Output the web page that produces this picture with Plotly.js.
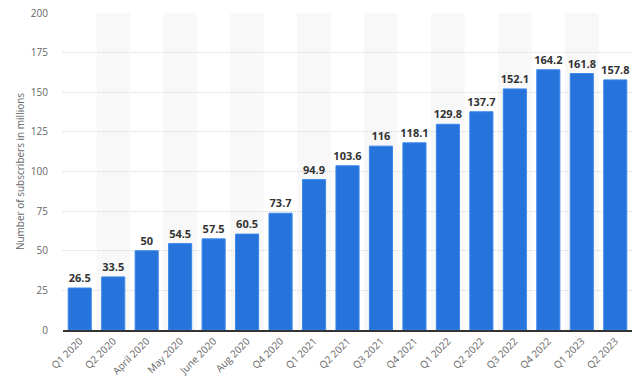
<!DOCTYPE html>
<html>
<head>
<meta charset="utf-8">
<script src="https://cdn.plot.ly/plotly-3.0.1.min.js"></script>
<style>html,body{margin:0;padding:0;background:#fff}#chart{width:640px;height:386px}</style>
</head>
<body>
<div id="chart"></div>
<script>
const categories = ["Q1 2020","Q2 2020","April 2020","May 2020","June 2020","Aug 2020","Q4 2020","Q1 2021","Q2 2021","Q3 2021","Q4 2021","Q1 2022","Q2 2022","Q3 2022","Q4 2022","Q1 2023","Q2 2023"];
const subscribers = [26.5,33.5,50,54.5,57.5,60.5,73.7,94.9,103.6,116,118.1,129.8,137.7,152.1,164.2,161.8,157.8];
const yTicks = [0,25,50,75,100,125,150,175,200];

const bands = [];
categories.forEach((c,i)=>{
  if(i%2===1){
    bands.push({type:'rect',xref:'x',yref:'paper',x0:i-0.5,x1:i+0.5,y0:0,y1:1,fillcolor:'#f8f8f8',line:{width:0},layer:'below'});
  }
});

const trace = {
  type:'bar',
  x: categories.map((c,i)=>i),
  y: subscribers,
  marker:{color:'#2673dc',line:{color:'#3b88ea',width:1}},
  text: subscribers.map(v=>String(v)),
  textposition:'outside',
  textangle:0,
  constraintext:'none',
  textfont:{family:'Open Sans, sans-serif',size:11,color:'#333',weight:'bold'},
  cliponaxis:false,
  hoverinfo:'none'
};

const layout = {
  width:640,height:386,
  margin:{l:63,r:8,t:13,b:56},
  paper_bgcolor:'#fff',plot_bgcolor:'rgba(0,0,0,0)',
  bargap:0.31,
  showlegend:false,
  font:{family:'Open Sans, sans-serif',color:'#666'},
  xaxis:{
    type:'linear',
    range:[-0.5,categories.length-0.5],
    tickmode:'array',
    tickvals:categories.map((c,i)=>i),
    ticktext:categories,
    tickangle:-45,
    tickfont:{size:10,color:'#666'},
    showgrid:false,
    showline:true,linecolor:'#333',linewidth:1.5,
    ticks:'',
    zeroline:false
  },
  yaxis:{
    range:[0,200],
    tickmode:'array',
    tickvals:yTicks,
    ticktext:yTicks.map(String),
    tickfont:{size:10,color:'#666'},
    gridcolor:'#d6d6d6',griddash:'1px,1px',gridwidth:1,
    zeroline:false,
    ticklabelstandoff:14,
    title:{text:'Number of subscribers in millions',font:{size:10,color:'#666'},standoff:4}
  },
  shapes:bands
};

Plotly.newPlot('chart',[trace],layout,{staticPlot:true,displayModeBar:false});
</script>
</body>
</html>
